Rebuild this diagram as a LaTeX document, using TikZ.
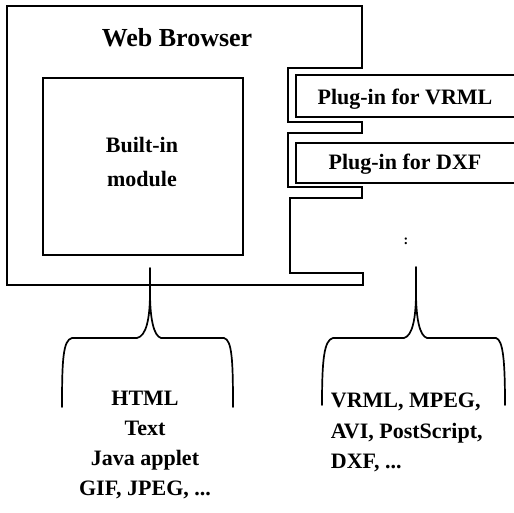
\documentclass[tikz,border=0pt]{standalone}
\usepackage{fontspec}
\setmainfont{Liberation Serif}
\begin{document}
\begin{tikzpicture}[x=1pt,y=-1pt,
  line width=1.8pt, line join=miter,
  lbl/.style={font=\fontsize{22}{28}\selectfont\bfseries, inner sep=0pt, anchor=base},
  brace/.style={line width=1.7pt, line cap=round}]
\useasboundingbox (0,0) rectangle (514,513);
% browser outline with slots
\draw (7,6) -- (362,6) -- (362,68) -- (288,68) -- (288,122) -- (362,122) -- (362,133)
  -- (288,133) -- (288,187) -- (362,187) -- (362,198) -- (290,198) -- (290,273)
  -- (363,273) -- (363,285) -- (7,285) -- cycle;
\node[lbl, font=\fontsize{26}{28}\selectfont\bfseries] (wb) at (177,47) {Web Browser};
% built-in module
\draw (43,78) rectangle (243,255);
\node[lbl] (bi1) at (142,153) {Built-in};
\node[lbl] (bi2) at (142,187) {module};
% plug-ins
\draw (516,75) -- (296,75) -- (296,117) -- (516,117);
\node[lbl] (pv) at (405,105) {Plug-in for VRML};
\draw (516,143) -- (296,143) -- (296,183) -- (516,183);
\node[lbl] (pd) at (405,170) {Plug-in for DXF};
\node[font=\fontsize{14}{14}\selectfont\bfseries, inner sep=0pt] (dots) at (406,241) {:};
% left brace
\coordinate (lt) at (150,268);
\draw[brace] (62,407) .. controls (62,360) and (63,340) .. (72,338) -- (137,338)
  .. controls (146,336) and (150,320) .. (150,292) -- (lt);
\draw[brace] (150,292) .. controls (150,320) and (154,336) .. (161,338) -- (224,338)
  .. controls (232,340) and (233,360) .. (233,407);
% right brace
\coordinate (rt) at (416,267);
\draw[brace] (322,405) .. controls (322,360) and (324,340) .. (333,338) -- (404,338)
  .. controls (412,336) and (416,320) .. (416,292) -- (rt);
\draw[brace] (416,292) .. controls (416,320) and (420,336) .. (427,338) -- (496,338)
  .. controls (503,340) and (505,360) .. (505,405);
% bottom texts
\node[lbl] (t1) at (145,405) {HTML};
\node[lbl] (t2) at (145,435) {Text};
\node[lbl] (t3) at (145,465) {Java applet};
\node[lbl] (t4) at (145,495) {GIF, JPEG, ...};
\node[lbl, anchor=base west] (r1) at (330,407) {VRML, MPEG,};
\node[lbl, anchor=base west] (r2) at (330,438) {AVI, PostScript,};
\node[lbl, anchor=base west] (r3) at (330,468) {DXF, ...};
\end{tikzpicture}
\end{document}
